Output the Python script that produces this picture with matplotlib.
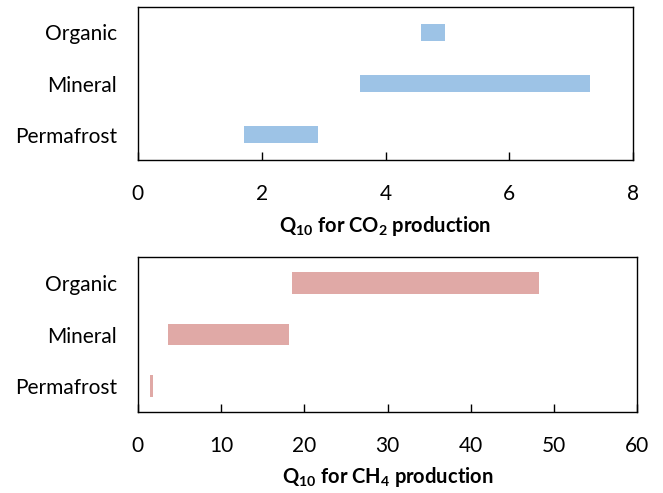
import matplotlib.pyplot as plt

plt.rcParams['font.family'] = ['Lato', 'DejaVu Sans']
plt.rcParams['mathtext.fontset'] = 'custom'
plt.rcParams['mathtext.rm'] = 'Lato:bold'
plt.rcParams['mathtext.default'] = 'rm'

soils = ['Organic', 'Mineral', 'Permafrost']

# Q10 ranges (low, high) for each soil type
co2_low = [4.57, 3.58, 1.72]
co2_high = [4.96, 7.30, 2.91]
ch4_low = [18.55, 3.56, 1.44]
ch4_high = [48.2, 18.1, 1.84]

co2_ticks = [0, 2, 4, 6, 8]
ch4_ticks = [0, 10, 20, 30, 40, 50, 60]

fig = plt.figure(figsize=(6.63, 4.93), dpi=100)
ax1 = fig.add_axes([0.208, 0.675, 0.747, 0.311])
ax2 = fig.add_axes([0.208, 0.164, 0.753, 0.315])


def range_bars(ax, low, high, ticks, color, height, label):
    ypos = list(range(len(soils)))
    widths = [h - l for l, h in zip(low, high)]
    ax.barh(ypos, widths, left=low, height=height, color=color)
    ax.set_yticks(ypos)
    ax.set_yticklabels(soils, fontsize=15)
    ax.set_ylim(len(soils) - 0.5, -0.5)
    ax.set_xlim(ticks[0], ticks[-1])
    ax.set_xticks(ticks)
    ax.tick_params(axis='x', direction='in', length=6, width=1, pad=17, labelsize=15)
    ax.tick_params(axis='y', length=0, pad=15)
    for s in ax.spines.values():
        s.set_linewidth(1)
        s.set_color('black')
    ax.set_xlabel(label, fontsize=14.5, fontweight='bold', labelpad=7)


range_bars(ax1, co2_low, co2_high, co2_ticks, '#9dc3e6', 0.34,
           r'Q$_{10}$ for CO$_2$ production')
range_bars(ax2, ch4_low, ch4_high, ch4_ticks, '#e0a9a6', 0.42,
           r'Q$_{10}$ for CH$_4$ production')

fig.savefig('out.png', dpi=100)
